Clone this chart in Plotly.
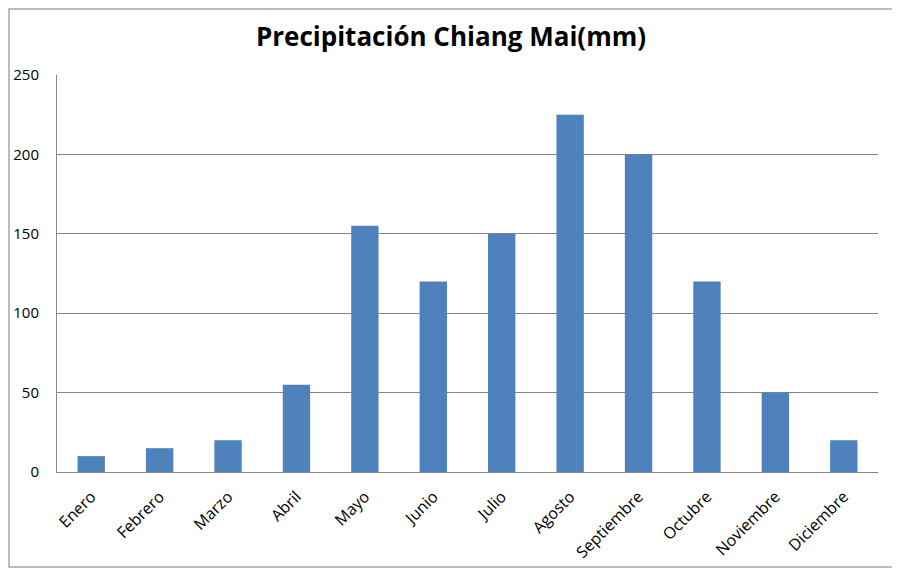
import plotly.graph_objects as go

months = ["Enero", "Febrero", "Marzo", "Abril", "Mayo", "Junio", "Julio",
          "Agosto", "Septiembre", "Octubre", "Noviembre", "Diciembre"]
precip = [10, 15, 20, 55, 155, 120, 150, 225, 200, 120, 50, 20]
y_ticks = [0, 50, 100, 150, 200, 250]

fig = go.Figure(go.Bar(x=months, y=precip, marker=dict(color="#4F81BD", line=dict(width=0))))

fig.update_layout(
    width=892, height=564,
    margin=dict(l=49, r=22, t=67, b=100, autoexpand=False),
    paper_bgcolor="white", plot_bgcolor="white",
    bargap=0.6,
    font=dict(family="Open Sans, Liberation Sans, sans-serif", color="#000000", size=14),
    title=dict(text="<b>Precipitación Chiang Mai(mm)</b>", x=0.4966, xanchor="center",
               xref="container", y=0.949, yanchor="middle", font=dict(size=26, color="#000000")),
    showlegend=False,
    shapes=[dict(type="rect", xref="paper", yref="paper", x0=-0.0585, x1=1.0244,
                 y0=-0.2393, y1=1.1663, line=dict(color="#A6A6A6", width=1.5))],
)
fig.update_xaxes(tickangle=-45, showline=True, linecolor="#868686", linewidth=1,
                 ticks="", showgrid=False, tickfont=dict(size=16), ticklabelstandoff=8)
fig.update_yaxes(range=[0, 250], tickvals=y_ticks, showgrid=True, gridcolor="#868686",
                 gridwidth=1, showline=True, linecolor="#868686", linewidth=1,
                 zeroline=False, ticks="", tickfont=dict(size=15), ticklabelstandoff=14)

fig.write_html("out.html")
